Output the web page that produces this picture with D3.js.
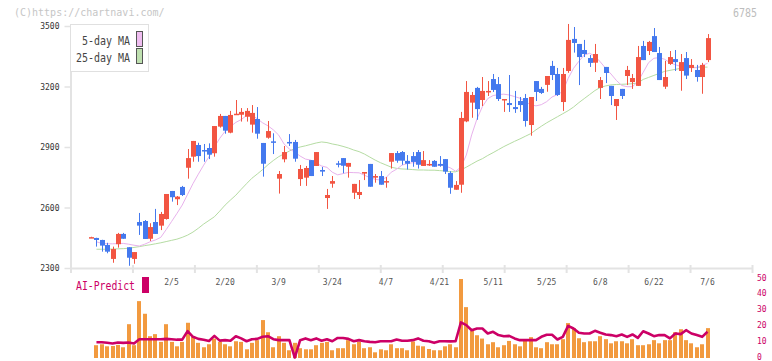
<!DOCTYPE html>
<html><head><meta charset="utf-8">
<script src="https://cdn.jsdelivr.net/npm/d3@7/dist/d3.min.js"></script>
<style>body{margin:0;background:#fff;} svg{display:block;}</style>
</head><body><svg id="c" width="772" height="361"></svg>
<script>
const openP  = [2450,2449,2439,2414,2345,2418,2469,2403,2345,2528,2533,2445,2528,2510,2543,2682,2641,2702,2797,2852,2910,2885,2895,2869,3001,3054,2971,3060,3060,3050,3011,3039,2920,2946,2928,2743,2839,2925,2925,2741,2748,2835,2806,2786,2647,2718,2819,2845,2802,2673,2662,2768,2816,2748,2756,2725,2827,2870,2875,2831,2855,2875,2806,2809,2831,2816,2840,2771,2688,2713,3027,3120,3193,3133,3173,3237,3212,3133,3118,3098,3128,3143,3009,3227,3188,3208,3302,3262,3123,3277,3436,3411,3381,3341,3318,3193,3297,3203,3103,3188,3252,3222,3203,3401,3376,3450,3366,3199,3312,3336,3277,3341,3292,3282,3247,3331];
const highP  = [2455,2450,2440,2425,2406,2474,2474,2403,2379,2573,2538,2522,2593,2578,2667,2682,2657,2707,2890,2930,2921,2915,2918,3004,3064,3054,3079,3133,3093,3093,3108,3098,2920,3029,2968,2781,2905,2964,2935,2811,2806,2835,2875,2801,2692,2756,2831,2845,2821,2717,2736,2776,2816,2766,2781,2751,2870,2880,2880,2860,2875,2885,2880,2835,2835,2855,2840,2780,2731,3074,3227,3173,3198,3247,3227,3262,3247,3138,3257,3178,3148,3163,3148,3227,3198,3252,3327,3292,3292,3510,3495,3411,3431,3356,3411,3247,3297,3203,3138,3188,3302,3262,3401,3426,3426,3490,3396,3327,3376,3381,3361,3371,3336,3307,3317,3460];
const lowP   = [2450,2406,2381,2373,2326,2401,2445,2311,2321,2464,2444,2434,2469,2488,2540,2629,2612,2657,2743,2827,2827,2827,2840,2852,2996,2966,2968,3060,3026,3026,2971,2941,2753,2941,2865,2669,2824,2905,2827,2707,2707,2756,2806,2756,2593,2698,2799,2770,2748,2642,2642,2736,2703,2723,2713,2698,2793,2822,2812,2788,2802,2793,2806,2806,2802,2802,2766,2668,2688,2673,3023,3045,3035,3103,3153,3173,3128,3074,3074,3069,3074,3001,2956,3128,3163,3174,3232,3153,3079,3268,3368,3207,3346,3297,3272,3138,3217,3108,3034,3138,3207,3188,3203,3331,3356,3371,3232,3188,3307,3277,3179,3237,3272,3224,3164,3321];
const closeP = [2453,2439,2411,2381,2394,2469,2445,2351,2379,2510,2444,2503,2469,2568,2667,2651,2654,2662,2845,2930,2855,2879,2862,3004,3054,2981,3059,3065,3074,3079,3069,2966,2817,2979,2921,2766,2875,2921,2842,2791,2796,2756,2875,2778,2662,2731,2814,2807,2821,2717,2677,2776,2703,2756,2713,2731,2870,2832,2832,2817,2826,2812,2835,2816,2802,2807,2778,2698,2712,3044,3173,3158,3088,3178,3178,3183,3138,3138,3108,3088,3108,3029,3148,3173,3168,3252,3257,3158,3262,3431,3416,3346,3361,3317,3361,3232,3267,3153,3138,3153,3282,3242,3346,3331,3421,3371,3232,3247,3346,3321,3321,3254,3307,3247,3307,3440];
const ma5  = [null,2430,2422,2420,2420,2421,2422,2418,2413,2409,2418,2430,2439,2452,2490,2530,2570,2612,2665,2718,2765,2810,2852,2900,2943,2978,3001,3022,3036,3056,3059,3040,3020,3005,2985,2959,2915,2890,2875,2855,2840,2835,2820,2806,2799,2775,2762,2768,2774,2773,2772,2760,2748,2740,2736,2748,2775,2790,2810,2818,2822,2820,2815,2812,2811,2810,2806,2797,2780,2800,2860,2960,3040,3100,3140,3155,3160,3162,3158,3150,3142,3125,3110,3104,3110,3125,3148,3160,3175,3240,3290,3325,3356,3365,3350,3322,3290,3262,3230,3205,3199,3199,3224,3270,3318,3340,3343,3335,3318,3308,3300,3296,3293,3293,3305,3315];
const ma25 = [null,2393,2393,2393,2394,2395,2396,2398,2402,2406,2411,2415,2420,2425,2431,2437,2443,2452,2463,2478,2497,2518,2536,2554,2582,2612,2637,2661,2690,2718,2745,2766,2788,2812,2833,2852,2866,2880,2893,2900,2906,2913,2920,2925,2922,2915,2910,2903,2895,2885,2877,2865,2850,2835,2822,2811,2800,2794,2791,2790,2788,2786,2786,2785,2785,2783,2781,2777,2777,2786,2800,2815,2830,2842,2858,2872,2887,2902,2915,2928,2940,2953,2966,2985,3003,3020,3035,3050,3065,3080,3098,3120,3140,3160,3180,3195,3203,3208,3210,3211,3212,3214,3217,3235,3245,3255,3265,3275,3280,3285,3290,3292,3294,3295,3296,3296];
const volume = [null,8.1,8.7,7.4,7.6,8.3,6.8,21.4,8.1,36.0,28.0,13.8,15.1,10.2,21.4,10.2,7.4,10.2,22.3,13.4,9.6,6.8,8.7,12.3,10.2,8.7,7.4,10.6,10.2,5.5,9.6,11.3,24.0,16.3,6.8,13.8,9.6,4.9,9.6,6.2,5.5,5.5,8.1,9.6,10.2,4.9,6.2,6.2,11.3,8.7,10.2,6.2,6.8,3.6,5.5,4.9,8.7,6.2,6.2,4.9,10.5,7.8,7.4,5.7,4.9,4.9,7.4,8.7,6.8,50,32.2,17.2,14.4,12.3,8.7,10.0,6.8,8.1,10.8,8.7,7.4,10.8,13.2,6.8,6.2,10.0,8.7,8.7,11.9,22.1,18.9,12.5,10.0,10.6,10.6,13.8,11.9,9.3,10.6,10.6,9.3,11.9,8.1,8.1,8.7,11.3,9.3,11.3,11.3,16.3,18.2,11.3,9.3,6.8,8.7,18.9];
const aiPredict = [null,10.0,10.0,9.6,9.2,9.8,9.6,9.8,9.2,11.9,11.9,11.9,11.9,11.9,12.1,11.9,11.6,11.6,17.0,13.4,12.1,11.6,10.8,14.0,11.0,11.3,10.9,13.8,12.4,10.6,11.9,12.1,13.4,13.8,11.9,11.3,11.3,11.3,0.3,11.3,12.4,11.3,12.4,10.9,11.9,10.6,12.7,12.7,12.1,10.6,11.3,10.6,10.2,10.0,10.6,10.6,10.6,11.7,10.9,10.9,11.3,12.4,10.9,10.6,9.6,10.6,10.6,10.5,10.6,22.5,20.8,17.6,18.7,18.7,15.5,16.6,14.5,13.8,14.0,12.4,11.3,11.3,11.3,11.3,13.4,14.7,14.7,11.7,13.4,20.3,18.7,16.0,15.5,15.5,17.2,16.0,14.9,14.5,13.8,14.9,13.4,14.9,12.7,16.9,15.5,13.8,14.5,14.5,12.4,15.5,15.1,17.6,15.5,14.5,13.4,16.6];
const dateLabels = ["2/5","2/20","3/9","3/24","4/7","4/21","5/11","5/25","6/8","6/22","7/6"];
const dateLabelIdx = [15,25,35,45,55,65,75,85,95,105,115];
const priceTicks = [2300,2600,2900,3200,3500];
const volTicks = [0,10,20,30,40,50];

const svg = d3.select('#c');
const n = closeP.length;
const MONO = '"DejaVu Sans Mono", monospace';
const UP = '#f25542', DOWN = '#4479ee';

const x = d3.scaleLinear().domain([0, n - 1]).range([91.1, 707.5]);
const y = d3.scaleLinear().domain([2300, 3500]).range([268, 26]);
const yv = d3.scaleLinear().domain([0, 50]).range([358, 279]);
const xg = d3.scaleLinear().domain([0, 11]).range([70.5, 752]);

// header texts
svg.append('text').attr('x', 14).attr('y', 15.5).attr('font-family', MONO).attr('font-size', 10)
  .attr('fill', '#c6c6c6').text('(C)https://chartnavi.com/');
svg.append('text').attr('x', 757).attr('y', 16.5).attr('text-anchor', 'end').attr('font-family', MONO)
  .attr('font-size', 12).attr('textLength', 24).attr('lengthAdjust', 'spacingAndGlyphs')
  .attr('fill', '#bdbdbd').text('6785');

// x grid axis
const gx = svg.append('g').attr('transform', 'translate(0,268)')
  .call(d3.axisBottom(xg).tickValues(d3.range(12)).tickSizeOuter(0).tickFormat(''));
gx.select('.domain').attr('stroke', '#e3e3e3').attr('stroke-width', 2);
gx.selectAll('.tick line').attr('stroke', '#e3e3e3').attr('stroke-width', 2).attr('y1', -3).attr('y2', 5);

// y axis
const gy = svg.append('g').attr('transform', 'translate(70.5,0)')
  .call(d3.axisLeft(y).tickValues(priceTicks).tickFormat(d3.format('d')).tickSize(6).tickSizeOuter(0).tickPadding(5));
gy.select('.domain').attr('stroke', '#e3e3e3').attr('stroke-width', 2);
gy.selectAll('.tick line').attr('stroke', '#e3e3e3').attr('stroke-width', 1.5);
gy.selectAll('.tick text').attr('font-family', MONO).attr('font-size', 8).attr('fill', '#333');

// date labels
svg.append('g').selectAll('text').data(dateLabels).join('text')
  .attr('x', (d, k) => x(dateLabelIdx[k])).attr('y', 285)
  .attr('text-anchor', 'middle').attr('font-family', MONO).attr('font-size', 8).attr('fill', '#555')
  .text(d => d);

// moving averages
const lineOf = arr => d3.line().defined(d => d != null).x((d, i) => x(i)).y(d => y(d))(arr);
svg.append('path').attr('d', lineOf(ma25)).attr('fill', 'none').attr('stroke', '#b5dca3').attr('stroke-width', 1);
svg.append('path').attr('d', lineOf(ma5)).attr('fill', 'none').attr('stroke', '#e8b2ec').attr('stroke-width', 1);

// candles
const idx = d3.range(n);
const cg = svg.append('g');
cg.selectAll('line').data(idx).join('line')
  .attr('x1', i => Math.round(x(i)) + 0.5).attr('x2', i => Math.round(x(i)) + 0.5)
  .attr('y1', i => y(highP[i])).attr('y2', i => y(lowP[i]))
  .attr('stroke', i => closeP[i] >= openP[i] ? UP : DOWN).attr('stroke-width', 1);
cg.selectAll('rect').data(idx).join('rect')
  .attr('x', i => Math.round(x(i)) - 2).attr('width', 5)
  .attr('y', i => y(Math.max(openP[i], closeP[i])))
  .attr('height', i => Math.max(1.5, Math.abs(y(openP[i]) - y(closeP[i]))))
  .attr('fill', i => closeP[i] >= openP[i] ? UP : DOWN);

// legend
const lg = svg.append('g');
lg.append('rect').attr('x', 70.5).attr('y', 24.5).attr('width', 78).attr('height', 47)
  .attr('fill', '#fff').attr('stroke', '#e0e0e0');
const legendItems = [['5-day MA', '#efbdf0', 44.5, 31.5], ['25-day MA', '#bfe0b0', 61.5, 48.5]];
legendItems.forEach(([t, c, ty, ry]) => {
  lg.append('text').attr('x', 130).attr('y', ty).attr('text-anchor', 'end').attr('font-family', MONO)
    .attr('font-size', 12).attr('textLength', t.length * 6).attr('lengthAdjust', 'spacingAndGlyphs')
    .attr('fill', '#444').text(t);
  lg.append('rect').attr('x', 136.5).attr('y', ry).attr('width', 6).attr('height', 15)
    .attr('fill', c).attr('stroke', '#555').attr('stroke-width', 1);
});

// AI-Predict label
svg.append('text').attr('x', 76).attr('y', 290).attr('font-family', MONO).attr('font-size', 11.5)
  .attr('textLength', 59).attr('lengthAdjust', 'spacingAndGlyphs').attr('fill', '#cc0066').text('AI-Predict');
svg.append('rect').attr('x', 142).attr('y', 277).attr('width', 7).attr('height', 16).attr('fill', '#cc0066');

// volume bars
svg.append('g').selectAll('rect').data(idx.filter(i => volume[i] != null)).join('rect')
  .attr('x', i => Math.round(x(i)) - 2).attr('width', 4)
  .attr('y', i => yv(volume[i])).attr('height', i => yv(0) - yv(volume[i]))
  .attr('fill', '#f29a3f');

// AI predict line
svg.append('path').attr('d', d3.line().defined(d => d != null).x((d, i) => x(i)).y(d => yv(d))(aiPredict))
  .attr('fill', 'none').attr('stroke', '#cc0066').attr('stroke-width', 2.6).attr('stroke-linejoin', 'round');

// right axis labels
svg.append('g').selectAll('text').data(volTicks).join('text')
  .attr('x', 757).attr('y', d => yv(d) - 1).attr('dy', '0.32em').attr('font-family', MONO).attr('font-size', 8)
  .attr('fill', '#cc0066').text(d => d);
</script></body></html>
